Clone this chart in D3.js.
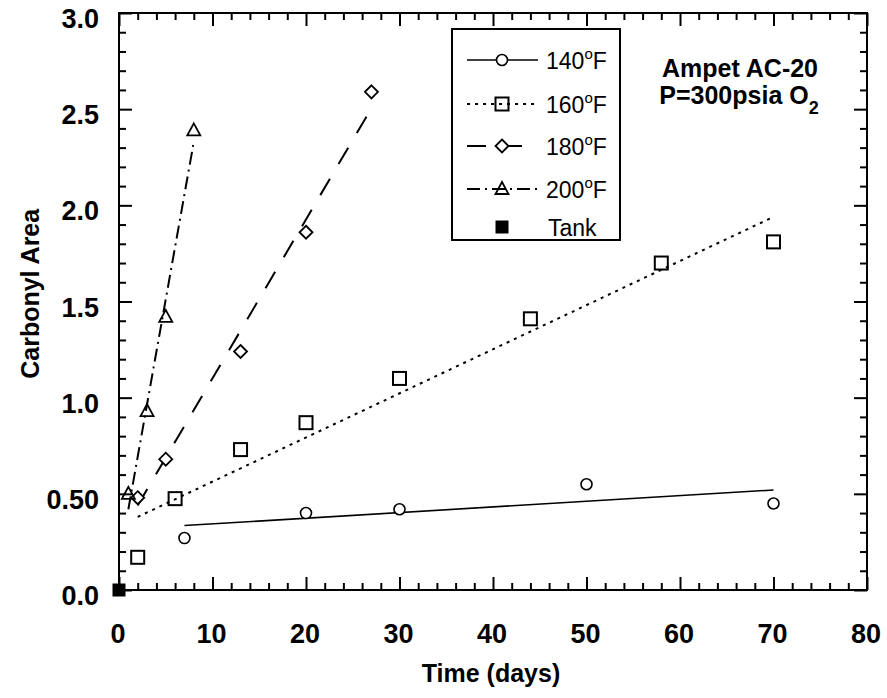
<!DOCTYPE html>
<html>
<head>
<meta charset="utf-8">
<script src="https://cdn.jsdelivr.net/npm/d3@7"></script>
<style>
  body { margin: 0; background: #fff; }
  svg { display: block; }
  text { font-family: "Liberation Sans", Arial, sans-serif; fill: #000; }
</style>
</head>
<body>
<div class="chart"></div>
<script>
// carbonyl area vs aging time, Ampet AC-20 at 300 psia O2
const t140 = [7, 20, 30, 50, 70];
const ca140 = [0.27, 0.40, 0.42, 0.55, 0.45];
const t160 = [2, 6, 13, 20, 30, 44, 58, 70];
const ca160 = [0.17, 0.475, 0.73, 0.87, 1.10, 1.41, 1.70, 1.81];
const t180 = [2, 5, 13, 20, 27];
const ca180 = [0.48, 0.68, 1.24, 1.86, 2.59];
const t200 = [1, 3, 5, 8];
const ca200 = [0.50, 0.93, 1.42, 2.39];
const tTank = [0];
const caTank = [0];

// fitted lines (end points)
const fit140 = [[7, 0.335], [70, 0.52]];
const fit160 = [[2, 0.38], [70, 1.94]];
const fit180 = [[2, 0.44], [27, 2.505]];
const fit200 = [[1, 0.42], [8, 2.33]];

const xTicks = [0, 10, 20, 30, 40, 50, 60, 70, 80];
const yTicks = [0, 0.5, 1.0, 1.5, 2.0, 2.5, 3.0];
const yTickLabels = ['0.0', '0.50', '1.0', '1.5', '2.0', '2.5', '3.0'];
const legendLabels = ['140', '160', '180', '200'];

const width = 887;
const height = 698;
const x = d3.scaleLinear().domain([0, 80]).range([119, 867]);
const y = d3.scaleLinear().domain([0, 3]).range([590, 13]);

const svg = d3.select('.chart')
	.append('svg')
	.attr('width', width)
	.attr('height', height);

const dashes = {
	'140': null,
	'160': '3,5',
	'180': '19,17',
	'200': '13,5,2,5'
};

// ticks, pointing inwards on all 4 sides
const minorX = d3.range(0, 81, 2).filter(d => d % 10 != 0);
const minorY = d3.range(0, 31).map(d => d / 10).filter(d => Math.round(d * 10) % 5 != 0);

function tickAxis(axis, scale, vals, size, tr) {
	const g = svg.append('g')
		.attr('transform', tr)
		.call(axis(scale).tickValues(vals).tickSize(size).tickFormat(''));
	g.select('.domain').remove();
	g.selectAll('line').attr('stroke', '#000').attr('stroke-width', 2);
}
tickAxis(d3.axisBottom, x, xTicks, -13, `translate(0,${y(0)})`);
tickAxis(d3.axisBottom, x, minorX, -7, `translate(0,${y(0)})`);
tickAxis(d3.axisTop, x, xTicks, -13, `translate(0,${y(3)})`);
tickAxis(d3.axisTop, x, minorX, -7, `translate(0,${y(3)})`);
tickAxis(d3.axisLeft, y, yTicks, -13, `translate(${x(0)},0)`);
tickAxis(d3.axisLeft, y, minorY, -7, `translate(${x(0)},0)`);
tickAxis(d3.axisRight, y, yTicks, -13, `translate(${x(80)},0)`);
tickAxis(d3.axisRight, y, minorY, -7, `translate(${x(80)},0)`);

svg.append('rect')
	.attr('x', x(0)).attr('y', y(3))
	.attr('width', x(80) - x(0)).attr('height', y(0) - y(3))
	.attr('fill', 'none').attr('stroke', '#000').attr('stroke-width', 2);

// tick labels
svg.selectAll('text.xlab')
	.data(xTicks)
	.enter()
	.append('text')
	.attr('class', 'xlab')
	.attr('x', d => x(d) - 1)
	.attr('y', 643)
	.attr('text-anchor', 'middle')
	.attr('font-size', '27px')
	.attr('font-weight', 'bold')
	.text(d => d);

svg.selectAll('text.ylab')
	.data(yTicks)
	.enter()
	.append('text')
	.attr('class', 'ylab')
	.attr('x', 99)
	.attr('y', d => y(d) + 15)
	.attr('text-anchor', 'end')
	.attr('font-size', '27px')
	.attr('font-weight', 'bold')
	.text((d, i) => yTickLabels[i]);

svg.append('text')
	.attr('x', x(40) - 2)
	.attr('y', 682)
	.attr('text-anchor', 'middle')
	.attr('font-size', '25px')
	.attr('font-weight', 'bold')
	.text('Time (days)');

svg.append('text')
	.attr('transform', `translate(39,${y(1.54)}) rotate(-90)`)
	.attr('text-anchor', 'middle')
	.attr('font-size', '25px')
	.attr('font-weight', 'bold')
	.text('Carbonyl Area');

// fit lines
const line = d3.line().x(d => x(d[0])).y(d => y(d[1]));
const fits = [[fit140, '140'], [fit160, '160'], [fit180, '180'], [fit200, '200']];
fits.forEach(f => {
	svg.append('path')
		.attr('d', line(f[0]))
		.attr('fill', 'none')
		.attr('stroke', '#000')
		.attr('stroke-width', f[1] == '140' ? 1.6 : 2)
		.attr('stroke-dasharray', dashes[f[1]]);
});

// markers
function marker(g, kind, cx, cy) {
	if (kind == '140') {
		g.append('circle').attr('cx', cx).attr('cy', cy).attr('r', 5.5)
			.attr('fill', 'white').attr('stroke', '#000').attr('stroke-width', 1.6);
	} else if (kind == '160') {
		g.append('rect').attr('x', cx - 6.5).attr('y', cy - 6.5).attr('width', 13).attr('height', 13)
			.attr('fill', 'none').attr('stroke', '#000').attr('stroke-width', 2);
	} else if (kind == '180') {
		g.append('path').attr('d', `M${cx},${cy - 6.5}L${cx + 6.5},${cy}L${cx},${cy + 6.5}L${cx - 6.5},${cy}Z`)
			.attr('fill', 'white').attr('stroke', '#000').attr('stroke-width', 1.8);
	} else if (kind == '200') {
		g.append('path').attr('d', `M${cx},${cy - 7}L${cx + 6.5},${cy + 5}L${cx - 6.5},${cy + 5}Z`)
			.attr('fill', 'none').attr('stroke', '#000').attr('stroke-width', 1.8);
	} else {
		g.append('rect').attr('x', cx - 6.5).attr('y', cy - 6.5).attr('width', 13).attr('height', 13)
			.attr('fill', '#000');
	}
}

const series = [
	['140', t140, ca140], ['160', t160, ca160], ['180', t180, ca180],
	['200', t200, ca200], ['tank', tTank, caTank]
];
series.forEach(s => {
	const g = svg.append('g');
	s[1].forEach((t, i) => marker(g, s[0], x(t), y(s[2][i])));
});

// legend
const lg = svg.append('g');
lg.append('rect')
	.attr('x', 452).attr('y', 29).attr('width', 168).attr('height', 211)
	.attr('fill', 'white').attr('stroke', '#000').attr('stroke-width', 2);
const legY = [60, 104, 146, 189, 227];
legendLabels.forEach((k, i) => {
	lg.append('line')
		.attr('x1', 467).attr('x2', 538)
		.attr('y1', legY[i]).attr('y2', legY[i])
		.attr('stroke', '#000')
		.attr('stroke-width', k == '140' ? 1.6 : 2)
		.attr('stroke-dasharray', dashes[k]);
	marker(lg, k, 502, legY[i]);
	const t = lg.append('text')
		.attr('x', 546).attr('y', legY[i] + 9)
		.attr('font-size', '23px');
	t.append('tspan').text(k);
	t.append('tspan').attr('dy', -10).attr('font-size', '15px').text('o');
	t.append('tspan').attr('dy', 10).text('F');
});
marker(lg, 'tank', 502, legY[4]);
lg.append('text')
	.attr('x', 548).attr('y', legY[4] + 9)
	.attr('font-size', '23px')
	.text('Tank');

// annotation
svg.append('text')
	.attr('x', 740).attr('y', 77)
	.attr('text-anchor', 'middle')
	.attr('font-size', '25px')
	.attr('font-weight', 'bold')
	.text('Ampet AC-20');
const ann = svg.append('text')
	.attr('x', 739).attr('y', 104)
	.attr('text-anchor', 'middle')
	.attr('font-size', '25px')
	.attr('font-weight', 'bold');
ann.append('tspan').text('P=300psia O');
ann.append('tspan').attr('dy', 10).attr('font-size', '18px').text('2');
</script>
</body>
</html>
